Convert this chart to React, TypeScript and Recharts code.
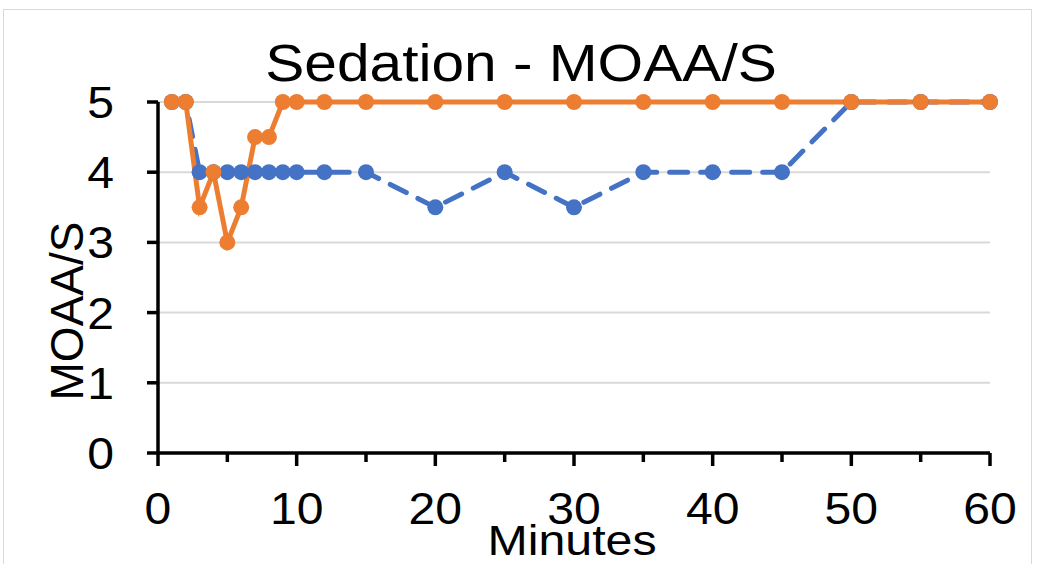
import React from 'react';
import { LineChart, Line, XAxis, YAxis, CartesianGrid } from 'recharts';

// minutes after start
const minutes = [1, 2, 3, 4, 5, 6, 7, 8, 9, 10, 12, 15, 20, 25, 30, 35, 40, 45, 50, 55, 60];
const blueScores = [5, 5, 4, 4, 4, 4, 4, 4, 4, 4, 4, 4, 3.5, 4, 3.5, 4, 4, 4, 5, 5, 5];
const orangeScores = [5, 5, 3.5, 4, 3, 3.5, 4.5, 4.5, 5, 5, 5, 5, 5, 5, 5, 5, 5, 5, 5, 5, 5];

const xTicks = [0, 5, 10, 15, 20, 25, 30, 35, 40, 45, 50, 55, 60];
const yTicks = [0, 1, 2, 3, 4, 5];

const data = minutes.map((m, i) => ({ m, blue: blueScores[i], orange: orangeScores[i] }));

const FONT = '"Liberation Sans", Arial, sans-serif';
const STRETCH = 1.15;
const TICK_STRETCH = 1.07;
const BLUE = '#4472C4';
const ORANGE = '#ED7D31';

const XTick = (props: any) => {
    const { x, y, payload } = props;
    const major = payload.value % 10 === 0;
    return (
        <g>
            <line x1={x} x2={x} y1={y} y2={y + (major ? 13 : 9)} stroke="#000" strokeWidth={3.5} />
            {major && (
                <text transform={`translate(${x},${y + 71}) scale(${TICK_STRETCH},1)`} textAnchor="middle"
                    fontSize={45} fontFamily={FONT} fill="#000">
                    {payload.value}
                </text>
            )}
        </g>
    );
};

const YTick = (props: any) => {
    const { x, y, payload } = props;
    return (
        <g>
            <line x1={x - 11} x2={x} y1={y} y2={y} stroke="#000" strokeWidth={3.5} />
            <text transform={`translate(${x - 44},${y + 16}) scale(${TICK_STRETCH},1)`} textAnchor="end"
                fontSize={45} fontFamily={FONT} fill="#000">
                {payload.value}
            </text>
        </g>
    );
};

const App: React.FC = () => {
    return (
        <div style={{ position: 'absolute', left: 0, top: 0, width: 1037, height: 564, background: '#fff', overflow: 'hidden' }}>
            <div style={{ position: 'absolute', left: 3, top: 9, width: 1027, height: 600, border: '1.5px solid #d9d9d9' }} />
            <div style={{ position: 'absolute', left: 0, top: 0 }}>
                <LineChart width={1037} height={564} data={data} margin={{ top: 102, right: 47, bottom: 0, left: 0 }}>
                    <CartesianGrid vertical={false} stroke="#d9d9d9" strokeWidth={2} />
                    <XAxis dataKey="m" type="number" domain={[0, 60]} ticks={xTicks} height={111}
                        axisLine={{ stroke: '#000', strokeWidth: 3.5 }} tickLine={false} tickSize={0} tickMargin={0}
                        tick={<XTick />} interval={0} />
                    <YAxis type="number" domain={[0, 5]} ticks={yTicks} width={158}
                        axisLine={{ stroke: '#000', strokeWidth: 3.5 }} tickLine={false} tickSize={0} tickMargin={0}
                        tick={<YTick />} interval={0} />
                    <Line dataKey="blue" stroke={BLUE} strokeWidth={5} strokeDasharray="18 13" strokeLinecap="round"
                        dot={{ r: 8, fill: BLUE, stroke: 'none' }} isAnimationActive={false} />
                    <Line dataKey="orange" stroke={ORANGE} strokeWidth={5}
                        dot={{ r: 8, fill: ORANGE, stroke: 'none' }} isAnimationActive={false} />
                </LineChart>
            </div>
            <svg width={1037} height={564} style={{ position: 'absolute', left: 0, top: 0, pointerEvents: 'none' }}>
                <text transform={`translate(521,81) scale(${STRETCH},1)`} textAnchor="middle" fontSize={51} fontFamily={FONT} fill="#000">
                    Sedation - MOAA/S
                </text>
                <text transform={`translate(572,555) scale(${STRETCH},1)`} textAnchor="middle" fontSize={42} fontFamily={FONT} fill="#000">
                    Minutes
                </text>
                <text transform="translate(83,311) rotate(-90)" textAnchor="middle" fontSize={46} fontFamily={FONT} fill="#000">
                    MOAA/S
                </text>
            </svg>
        </div>
    );
};

export default App;
